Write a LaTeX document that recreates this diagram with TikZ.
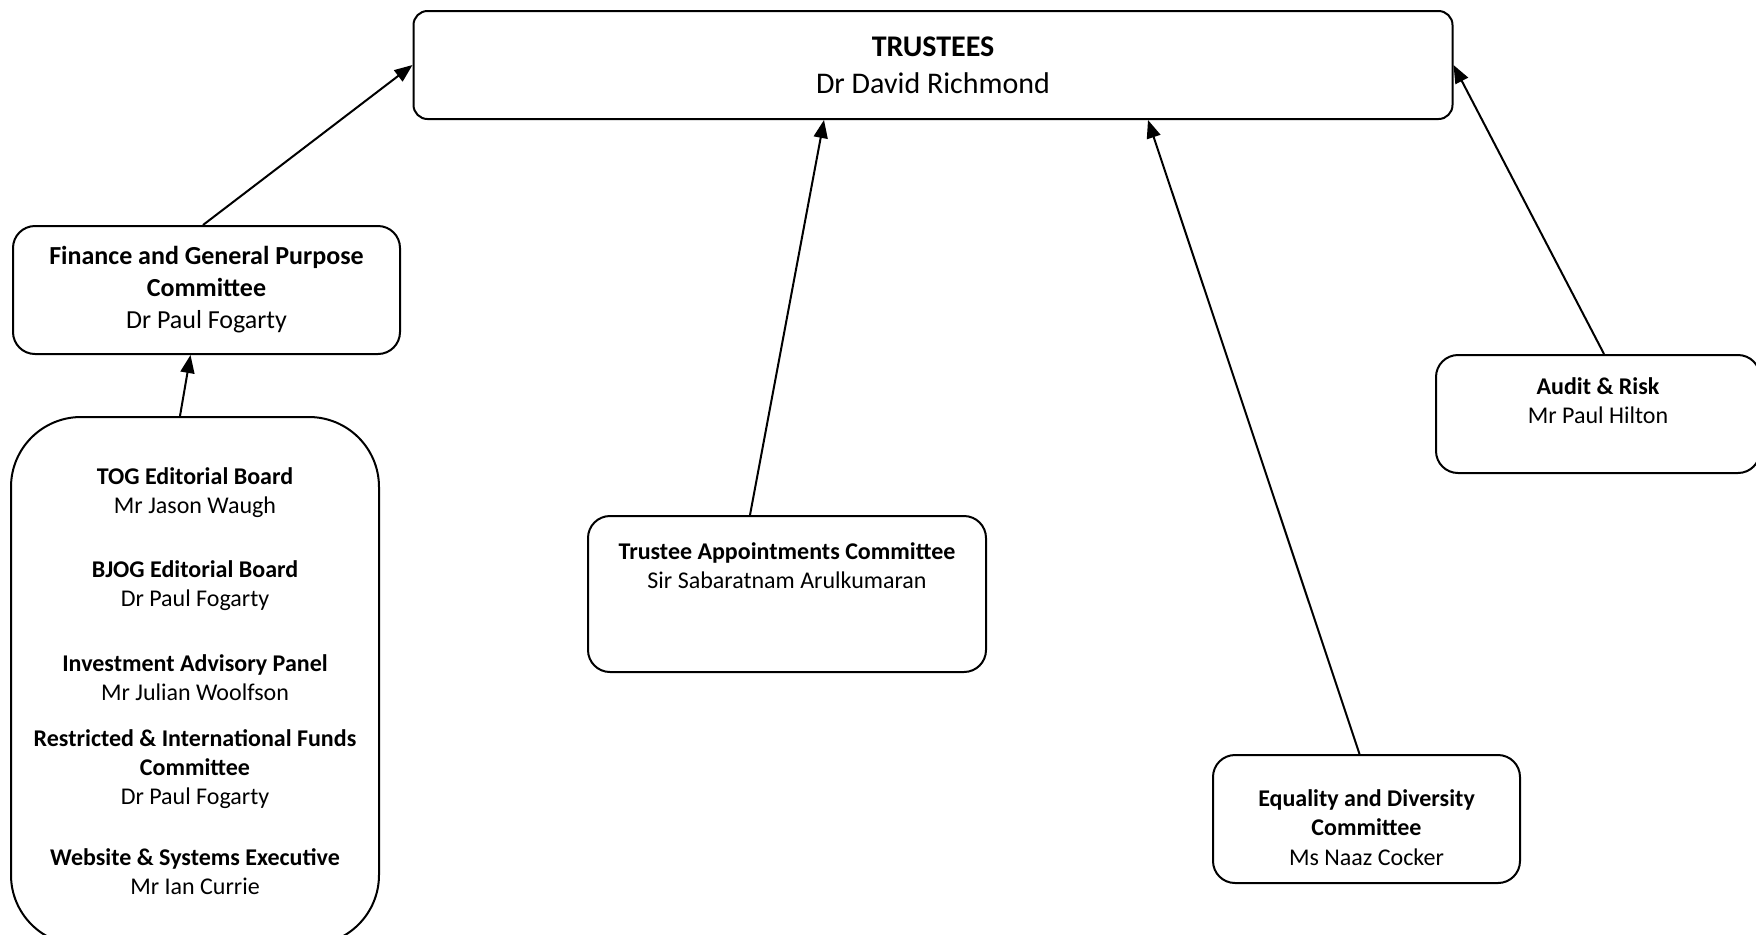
\documentclass[tikz,border=0pt]{standalone}
\usepackage{fontspec}
\setmainfont{Carlito}
\usetikzlibrary{arrows.meta}
\begin{document}
\begin{tikzpicture}[x=0.5pt,y=-0.5pt,
        box/.style={draw, line width=1pt, align=center, inner sep=0pt, font=\fontsize{12}{14.6}\selectfont},
        link/.style={-{Triangle[length=9pt,width=7pt]}, line width=1pt}]
        \useasboundingbox (0,0) rectangle (1756,934);
        \node[box, rounded corners=7pt, minimum width=519.5pt, minimum height=54pt,
            font=\fontsize{15}{18.5}\selectfont] (trustees) at (933,65) {\textbf{TRUSTEES}\\Dr David Richmond};
        \node[box, rounded corners=11pt, minimum width=193.5pt, minimum height=64pt,
            font=\fontsize{13}{16}\selectfont] (finance) at (206.5,290) {\textbf{Finance and General Purpose}\\\textbf{Committee}\\Dr Paul Fogarty};
        \node[box, rounded corners=35pt, minimum width=184pt, minimum height=264pt] (boards) at (195,681) {
            \textbf{TOG Editorial Board}\\Mr Jason Waugh\\[17.5pt]
            \textbf{BJOG Editorial Board}\\Dr Paul Fogarty\\[17.5pt]
            \textbf{Investment Advisory Panel}\\Mr Julian Woolfson\\[8.5pt]
            \textbf{Restricted \& International Funds}\\\textbf{Committee}\\Dr Paul Fogarty\\[15.5pt]
            \textbf{Website \& Systems Executive}\\Mr Ian Currie};
        \node[box, rounded corners=11pt, minimum width=199pt, minimum height=78pt] (tac) at (787,594) {\textbf{Trustee Appointments Committee}\\Sir Sabaratnam Arulkumaran\\[14pt]};
        \node[box, rounded corners=11pt, minimum width=162pt, minimum height=59pt] (audit) at (1598,414) {\textbf{Audit \& Risk}\\Mr Paul Hilton\\[-1pt]};
        \node[box, rounded corners=11pt, minimum width=153.5pt, minimum height=64pt] (equality) at (1366.5,819) {\rule{0pt}{17pt}\textbf{Equality and Diversity}\\\textbf{Committee}\\Ms Naaz Cocker};
        \draw[link] ([xshift=-1.75pt]finance.north) -- (trustees.west);
        \draw[link] ([xshift=-7.5pt]boards.north) -- ([xshift=-8pt]finance.south);
        \draw[link] ([xshift=-18.5pt]tac.north) -- ([xshift=-54.5pt]trustees.south);
        \draw[link] ([xshift=-3.5pt]equality.north) -- ([xshift=107.5pt]trustees.south);
        \draw[link] ([xshift=3pt]audit.north) -- (trustees.east);
    \end{tikzpicture}
\end{document}
